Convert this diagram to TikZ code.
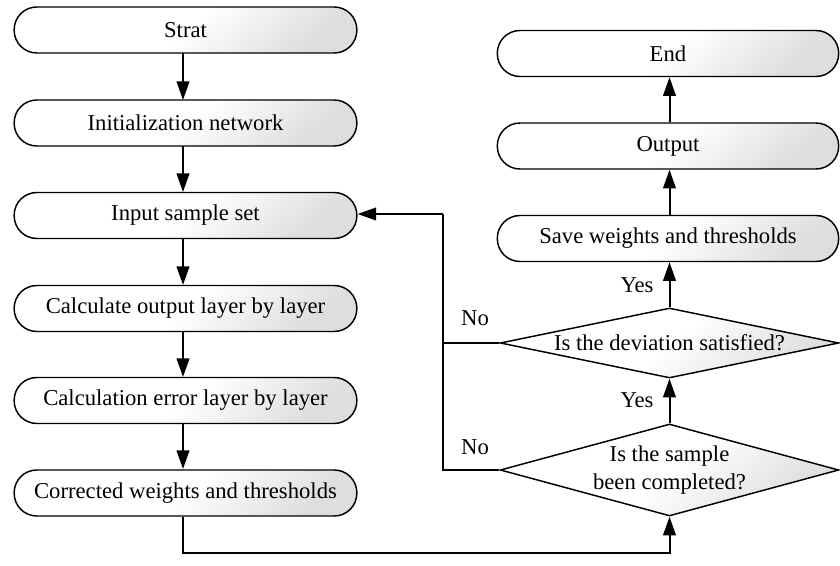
\documentclass[tikz,border=0pt]{standalone}
\usepackage{fontspec}
\setmainfont{Liberation Serif}
\usetikzlibrary{arrows.meta,shapes.geometric}
\begin{document}
\begin{tikzpicture}[x=0.75pt,y=-0.75pt,
  every node/.style={font=\fontsize{17}{21.5}\selectfont},
  procbox/.style={draw, line width=1.1pt, rounded corners=17pt,
    minimum width=257pt, minimum height=34.5pt, inner sep=0pt,
    top color=white, bottom color=black!13, middle color=white, shading angle=40},
  decision/.style={draw, diamond, line width=1.1pt, inner sep=0pt,
    minimum width=254pt, top color=white, bottom color=black!13, middle color=white, shading angle=40},
  flow/.style={line width=1.5pt, -{Triangle[length=14pt,width=9.5pt]}},
  link/.style={line width=1.5pt},
  tag/.style={inner sep=0pt}]
\useasboundingbox (0,0) rectangle (840,566);

% left column: training steps
\node[procbox] (start) at (185.5,30) {Strat};
\node[procbox] (init)  at (185.5,123) {Initialization network};
\node[procbox] (input) at (185.5,215.5) {Input sample set};
\node[procbox] (calc)  at (185.5,308.5) {Calculate output layer by layer};
\node[procbox] (err)   at (185.5,400.5) {Calculation error layer by layer};
\node[procbox] (corr)  at (185.5,493) {Corrected weights and thresholds};

% right column: checks and output
\node[procbox, minimum width=256pt] (end)  at (668,53.5) {End};
\node[procbox, minimum width=256pt] (out)  at (668,146) {Output};
\node[procbox, minimum width=256pt] (save) at (668,238.5) {Save weights and thresholds};
\node[decision, minimum height=52.5pt] (dev) at (669.5,343) {};
\node[tag] (devtxt) at (dev) {Is the deviation satisfied?};
\node[decision, minimum height=69pt] (samp) at (669.5,470) {};
\node[tag, align=center] (samptxt) at (samp) {Is the sample\\been completed?};

% branch labels
\node[tag] (no1)  at (475,318) {No};
\node[tag] (no2)  at (475,447) {No};
\node[tag] (yes1) at (637,285) {Yes};
\node[tag] (yes2) at (637,400) {Yes};

\coordinate (fb) at (442.5,214);
\coordinate (loop) at (183,553);

% main sequence
\draw[flow] (183,53) -- (183,100);
\draw[flow] (183,146) -- (183,192);
\draw[flow] (183,239) -- (183,285);
\draw[flow] (183,332) -- (183,377);
\draw[flow] (183,423) -- (183,469);

% loop back to the sample check
\draw[flow] (corr.south -| loop) -- (loop) -| (samp.south);

% "Yes" branches
\draw[flow] (samp.north) -- (samp.north |- dev.south);
\draw[flow] (dev.north) -- (dev.north |- save.south);
\draw[flow] (dev.north |- save.north) -- (dev.north |- out.south);
\draw[flow] (dev.north |- out.north) -- (dev.north |- end.south);

% "No" branches back to the input step
\draw[link] (samp.west) -| (fb);
\draw[link] (dev.west) -- (dev.west -| fb);
\draw[flow] (fb) -- (input.east |- fb);
\end{tikzpicture}
\end{document}
